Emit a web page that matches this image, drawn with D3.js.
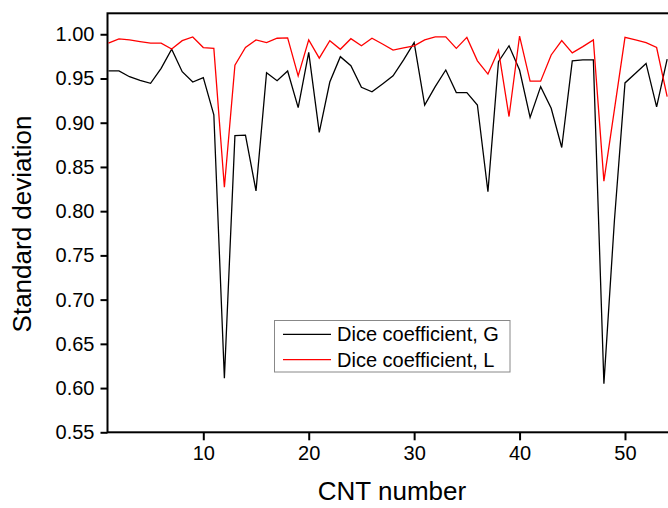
<!DOCTYPE html>
<html><head><meta charset="utf-8">
<script src="https://cdn.jsdelivr.net/npm/d3@7"></script>
<style>body{margin:0;background:#fff}svg{display:block}text{font-family:"Liberation Sans",Arial,sans-serif}</style>
</head><body><svg id="c" width="668" height="508"></svg>
<script>
const cntNumbers = d3.range(1, 55);
const diceG = [0.9585,0.9585,0.952,0.948,0.9446,0.9615,0.983,0.9577,0.946,0.951,
  0.909,0.611,0.8854,0.886,0.823,0.9566,0.9475,0.9585,0.917,0.9796,
  0.889,0.946,0.9747,0.9645,0.940,0.935,0.9438,0.953,0.971,0.9905,
  0.920,0.9408,0.9596,0.934,0.934,0.920,0.822,0.969,0.987,0.9596,
  0.906,0.9408,0.9163,0.872,0.970,0.971,0.971,0.605,0.79,0.945,
  0.956,0.967,0.918,0.972];
const diceL = [0.990,0.9947,0.9936,0.9917,0.990,0.990,0.9834,0.9928,0.997,0.985,
  0.984,0.827,0.965,0.985,0.9936,0.9905,0.9955,0.996,0.953,0.9936,
  0.973,0.9928,0.983,0.995,0.987,0.9955,0.989,0.982,0.9845,0.987,
  0.9936,0.997,0.997,0.984,0.9965,0.970,0.955,0.982,0.907,0.998,
  0.947,0.947,0.9766,0.9928,0.979,0.986,0.9936,0.834,0.915,0.9965,
  0.9936,0.9905,0.985,0.9295];
const xTicks = [10,20,30,40,50];
const yTicks = [0.55,0.60,0.65,0.70,0.75,0.80,0.85,0.90,0.95,1.00];
const seriesNames = ["Dice coefficient, G","Dice coefficient, L"];
const seriesColors = ["#000000","#ff0000"];

const svg = d3.select("#c");
const L = 107.5, T = 13.3, B = 432.3, R = 677.7;
const x = d3.scaleLinear().domain([0.913, 55]).range([L, R]);
const y = d3.scaleLinear().domain([0.55, 1.0237]).range([B, T]);

const fontTick = 20;
const gx = svg.append("g").attr("transform",`translate(0,${B})`)
  .call(d3.axisBottom(x).tickValues(xTicks).tickSize(8).tickPadding(6).tickSizeOuter(0).tickFormat(d3.format("d")));
const gy = svg.append("g").attr("transform",`translate(${L},0)`)
  .call(d3.axisLeft(y).tickValues(yTicks).tickSize(7).tickPadding(6).tickSizeOuter(0).tickFormat(d3.format(".2f")));
[gx, gy].forEach(g => {
  g.select(".domain").remove();
  g.selectAll(".tick line").attr("stroke","#000").attr("stroke-width",2);
  g.selectAll(".tick text").attr("fill","#000").style("font-size",fontTick+"px").style("font-family","'Liberation Sans',Arial,sans-serif");
});
svg.append("rect").attr("x",L).attr("y",T).attr("width",R-L).attr("height",B-T)
  .attr("fill","none").attr("stroke","#000").attr("stroke-width",2);

const line = d3.line().x((d,i)=>x(cntNumbers[i])).y(d=>y(d));
svg.append("clipPath").attr("id","pc").append("rect").attr("x",L).attr("y",T).attr("width",R-L).attr("height",B-T);
[diceG, diceL].forEach((s,k)=>{
  svg.append("path").datum(s).attr("d",line).attr("fill","none")
    .attr("stroke",seriesColors[k]).attr("stroke-width",1.3).attr("clip-path","url(#pc)");
});

const lg = svg.append("g");
lg.append("rect").attr("x",274.5).attr("y",320.5).attr("width",235.5).attr("height",51.5)
  .attr("fill","#fff").attr("stroke","#888").attr("stroke-width",1);
seriesNames.forEach((n,k)=>{
  const yy = 334.3 + k*25.4;
  lg.append("line").attr("x1",283).attr("x2",331).attr("y1",yy).attr("y2",yy)
    .attr("stroke",seriesColors[k]).attr("stroke-width",1.3);
  lg.append("text").attr("x",337).attr("y",yy+7).style("font-size","20px").attr("fill","#000").text(n);
});

svg.append("text").attr("x",392).attr("y",500).attr("text-anchor","middle").style("font-size","26px").text("CNT number");
svg.append("text").attr("transform","translate(31,224) rotate(-90)").attr("text-anchor","middle").style("font-size","26px").text("Standard deviation");
</script></body></html>
